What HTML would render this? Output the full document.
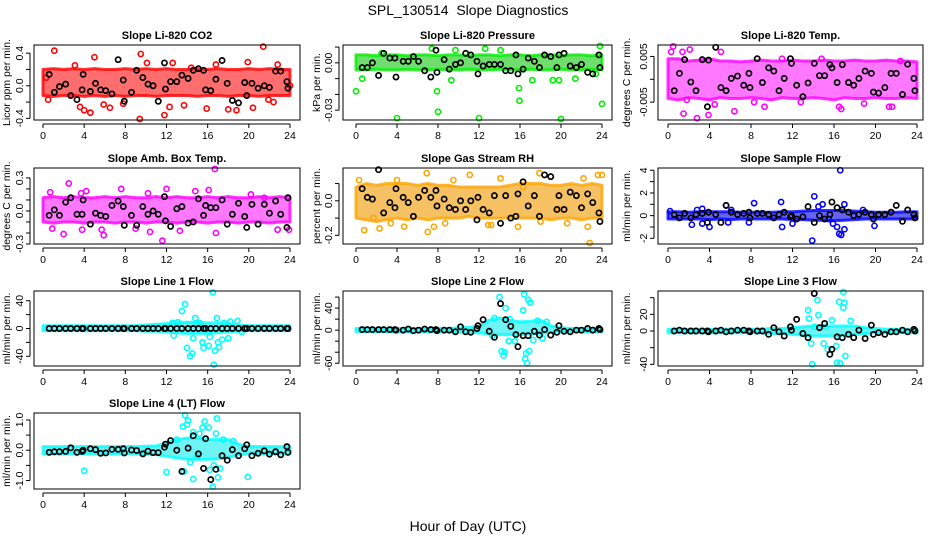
<!DOCTYPE html>
<html><head><meta charset="utf-8"><style>
html,body{margin:0;padding:0;background:#fff;}
svg{display:block;font-family:"Liberation Sans",sans-serif;}
</style></head><body>
<svg id="chart" width="936" height="540" viewBox="0 0 936 540" xmlns="http://www.w3.org/2000/svg">
<text x="468" y="15" text-anchor="middle" font-size="14">SPL_130514&#160; Slope Diagnostics</text>
<text x="468" y="531" text-anchor="middle" font-size="14">Hour of Day (UTC)</text>
</svg>
<script>
// Shared hours
const bandHours = [0,1,2,3,4,5,6,7,8,9,10,11,12,13,14,15,16,17,18,19,20,21,22,23,24];
const blackHours = [0.6,1.1,1.6,2.2,2.7,3.3,3.8,3.9,4.6,5.1,5.6,6.1,6.7,7.3,7.8,7.9,8.6,9.1,9.7,10.2,10.7,11.2,11.8,11.9,12.4,13.0,13.5,14.1,14.6,15.1,15.6,15.8,16.3,16.8,17.4,17.9,18.4,19.0,19.6,19.8,20.3,20.9,21.5,22.0,22.6,23.1,23.7,23.8];
const xTicks = [0,4,8,12,16,20,24];

// Panel 1: CO2
const co2BandLo = [-0.12,-0.13,-0.12,-0.12,-0.13,-0.12,-0.13,-0.12,-0.13,-0.12,-0.12,-0.13,-0.12,-0.12,-0.12,-0.13,-0.12,-0.12,-0.13,-0.12,-0.12,-0.13,-0.12,-0.12,-0.12];
const co2BandHi = [0.2,0.21,0.2,0.21,0.2,0.21,0.2,0.2,0.21,0.2,0.21,0.2,0.21,0.2,0.2,0.21,0.2,0.21,0.2,0.2,0.21,0.2,0.21,0.2,0.2];
const co2OutH = [1.1,0.5,3.6,4.0,4.6,5.0,5.9,6.5,9.4,9.5,10.1,11.8,12.3,12.6,13.7,15.9,16.8,18.0,18.8,19.9,20.4,21.4,21.9,22.4,22.8,3.1,7.8,14.4,0.3,24.0];
const co2OutV = [0.43,-0.17,-0.26,-0.3,-0.33,0.35,-0.23,-0.27,-0.41,0.39,0.28,-0.36,-0.26,0.28,-0.24,-0.28,0.26,-0.29,-0.3,0.29,-0.27,0.48,-0.17,-0.2,0.26,0.25,-0.22,0.22,0.1,0.0];
const co2Black = [0.14,-0.08,-0.01,0.02,-0.12,-0.17,-0.05,0.14,-0.07,0.03,-0.05,-0.06,-0.1,0.32,0.07,-0.19,-0.08,0.19,0.1,0.02,0.0,-0.19,0.28,-0.04,0.05,0.05,0.13,0.09,0.19,0.21,0.19,-0.05,-0.06,0.08,0.31,0.03,-0.18,-0.21,0.04,-0.12,0.03,-0.03,0.0,-0.02,0.18,0.18,0.05,-0.03];
const co2Ticks = [-0.4,-0.2,0,0.2,0.4];
const co2Labels = ["-0.4","","0.0","","0.4"];

// Panel 2: Pressure
const prBandLo = [-0.0045,-0.0045,-0.004,-0.0045,-0.0045,-0.004,-0.0045,-0.0045,-0.004,-0.0045,-0.0045,-0.004,-0.0045,-0.0045,-0.004,-0.0045,-0.0045,-0.004,-0.0045,-0.0045,-0.004,-0.0045,-0.0045,-0.004,-0.0045];
const prBandHi = [0.005,0.005,0.0045,0.005,0.005,0.0045,0.005,0.005,0.0045,0.005,0.005,0.0045,0.005,0.005,0.0045,0.005,0.005,0.0045,0.005,0.005,0.0045,0.005,0.005,0.0045,0.005];
const prOutH = [0,0.6,4.0,7.9,8.0,9.3,12.0,15.9,15.95,17.2,19.2,19.8,20.0,21.4,24.0,7.4,9.7,14.1,23.8,23.4,2.5,12.6];
const prOutV = [-0.018,-0.010,-0.035,-0.018,-0.031,-0.011,-0.035,-0.016,-0.024,-0.011,-0.011,-0.011,-0.036,-0.010,-0.026,0.009,0.008,0.008,0.011,-0.007,0.006,0.009];
const prBlack = [-0.003,-0.003,0.0,-0.008,0.006,0.003,0.003,-0.009,0.001,0.001,0.004,0.001,-0.005,-0.009,0.008,-0.006,0.002,-0.004,-0.001,0.0,0.006,0.005,0.001,-0.007,-0.002,-0.001,-0.001,-0.001,-0.005,-0.005,0.005,-0.007,-0.004,0.003,0.001,-0.003,0.005,0.004,-0.003,0.005,0.006,-0.002,-0.003,-0.001,-0.006,-0.007,0.005,-0.003];
const prTicks = [-0.03,-0.02,-0.01,0,0.01];
const prLabels = ["-0.03","","","0.00",""];

// Panel 3: Li-820 Temp
const ltBandLo = [-0.0042,-0.0045,-0.004,-0.0042,-0.0045,-0.004,-0.0042,-0.0042,-0.004,-0.0042,-0.0045,-0.004,-0.0042,-0.0042,-0.004,-0.0042,-0.0045,-0.004,-0.0042,-0.0042,-0.004,-0.0042,-0.0042,-0.004,-0.0042];
const ltBandHi = [0.0045,0.0045,0.004,0.0042,0.0045,0.004,0.004,0.0038,0.004,0.0042,0.004,0.004,0.0042,0.004,0.004,0.0042,0.004,0.004,0.0042,0.004,0.004,0.0042,0.004,0.004,0.0038];
const ltOutH = [0.5,0.3,1.4,2.1,2.8,1.5,3.9,5.1,6.4,9.3,16.7,16.5,21.3,21.6,4.5,12.8,14.8,11.0,8.3,22.4,18.9,1.8];
const ltOutV = [0.0072,0.006,0.006,0.0065,-0.0085,-0.0075,-0.0078,0.006,-0.007,-0.006,-0.0065,-0.006,-0.006,-0.006,-0.0055,-0.005,0.0045,0.0045,-0.005,0.004,-0.0053,-0.0045];
const ltBlack = [-0.0025,0.0013,0.0043,-0.0006,-0.0025,0.0043,-0.006,0.0042,0.007,-0.0018,-0.0025,0.0002,0.0007,-0.0013,0.0013,-0.0018,0.0045,-0.0007,0.0025,0.0018,-0.0025,0.0002,0.0045,0.0035,-0.0013,-0.0038,-0.0008,0.0035,0.0008,0.0008,0.0032,0.0025,-0.0007,0.0032,-0.0007,-0.0013,0.0002,0.0018,0.0013,-0.0028,-0.003,-0.0018,0.0013,0.0013,-0.0033,0.0033,0.0002,-0.0025];
const ltTicks = [-0.005,0,0.005];
const ltLabels = ["-0.005","","0.005"];

// Panel 4: Amb box temp
const abBandLo = [-0.1,-0.11,-0.1,-0.1,-0.11,-0.1,-0.1,-0.11,-0.1,-0.1,-0.11,-0.1,-0.1,-0.11,-0.1,-0.1,-0.11,-0.1,-0.1,-0.11,-0.1,-0.1,-0.11,-0.1,-0.1];
const abBandHi = [0.12,0.13,0.12,0.13,0.12,0.12,0.13,0.12,0.13,0.12,0.12,0.13,0.12,0.13,0.12,0.12,0.13,0.12,0.13,0.12,0.12,0.13,0.12,0.13,0.12];
const abOutH = [0.9,2.0,2.5,3.8,5.7,5.9,7.6,9.0,10.4,11.6,12.0,13.3,16.7,16.8,20.2,22.8,23.9,14.8,16.1,4.2,0.7,3.7,10.2,21.5];
const abOutV = [-0.16,-0.21,0.25,-0.17,-0.17,-0.22,0.2,-0.16,-0.19,-0.27,0.2,-0.18,0.39,-0.2,0.15,-0.17,-0.17,0.18,0.19,0.18,0.17,0.16,0.16,0.12];
const abBlack = [-0.04,0.01,-0.04,0.08,0.12,-0.03,-0.03,0.1,-0.12,-0.02,-0.04,-0.05,0.05,0.09,0.04,-0.13,-0.04,-0.13,0.04,-0.03,0.0,-0.03,0.13,-0.09,-0.14,0.02,0.04,-0.11,-0.1,0.11,-0.04,0.05,0.03,0.03,0.1,-0.12,-0.03,0.07,-0.05,-0.15,0.06,-0.12,0.06,-0.02,0.09,-0.03,-0.15,0.12];
const abTicks = [-0.3,-0.2,-0.1,0,0.1,0.2,0.3];
const abLabels = ["-0.3","","","0.0","","","0.3"];

// Panel 5: Gas stream RH
const rhBandLo = [-0.1,-0.11,-0.12,-0.11,-0.1,-0.11,-0.1,-0.11,-0.1,-0.1,-0.1,-0.09,-0.1,-0.1,-0.1,-0.1,-0.1,-0.1,-0.1,-0.11,-0.1,-0.1,-0.11,-0.1,-0.1];
const rhBandHi = [0.08,0.1,0.09,0.1,0.1,0.1,0.09,0.1,0.09,0.09,0.08,0.08,0.08,0.08,0.08,0.09,0.1,0.1,0.1,0.09,0.09,0.1,0.09,0.1,0.09];
const rhOutH = [0.3,0.8,2.3,3.4,4.7,7.0,7.6,8.7,11.1,12.9,13.2,15.8,18.0,17.9,20.6,22.2,22.6,22.8,23.6,24.0,6.9,9.5,1.7,4.0,14.1,19.8,16.3];
const rhOutV = [0.12,-0.17,-0.16,-0.13,-0.15,-0.18,-0.15,-0.13,0.15,-0.14,-0.14,-0.15,-0.12,0.16,-0.13,0.13,-0.15,-0.25,0.15,0.15,0.16,0.12,-0.1,0.12,0.13,-0.05,0.08];
const rhBlack = [0.07,0.02,0.01,0.18,-0.07,-0.01,-0.04,0.07,0.02,-0.01,-0.09,0.02,0.06,0.02,0.06,-0.03,0.01,-0.04,-0.05,0.0,-0.05,0.0,-0.11,0.02,-0.05,-0.07,0.03,-0.13,0.03,-0.1,-0.09,0.04,0.11,-0.03,0.03,-0.09,0.15,0.14,-0.05,0.03,-0.05,0.05,0.03,-0.04,0.04,-0.01,-0.07,-0.12];
const rhTicks = [-0.2,-0.1,0,0.1];
const rhLabels = ["-0.2","","0.0",""];

// Panel 6: Sample flow
const sfBandLo = [-0.3,-0.3,-0.3,-0.3,-0.35,-0.3,-0.35,-0.3,-0.3,-0.3,-0.3,-0.3,-0.35,-0.35,-0.4,-0.4,-0.45,-0.4,-0.35,-0.3,-0.3,-0.3,-0.3,-0.3,-0.3];
const sfBandHi = [0.35,0.35,0.3,0.35,0.35,0.35,0.35,0.3,0.3,0.3,0.3,0.35,0.35,0.4,0.45,0.45,0.45,0.45,0.4,0.35,0.3,0.3,0.3,0.35,0.35];
const sfOutH = [2.3,3.3,3.3,4.0,5.6,5.8,7.8,8.3,10.9,11.0,12.0,13.9,14.1,14.5,15.9,16.6,16.7,16.5,17.0,17.0,16.3,19.9,2.8,0.2,6.1,14.9,15.5,18.8];
const sfOutV = [-0.8,-0.7,0.6,-1.0,0.9,-0.6,-0.6,1.1,1.2,-1.0,-0.7,-2.2,1.7,0.8,-0.7,4.0,-1.7,-1.6,-1.2,1.0,-1.0,-0.9,0.5,0.4,0.5,1.0,-0.3,0.5];
const sfBlack = [0.1,-0.2,0.2,-0.2,0.1,0.2,-0.6,0.3,0.1,-0.6,0.9,0.3,0.1,0.2,0.3,-0.2,0.2,0.2,0.1,-0.2,0.1,0.3,-0.1,0.0,-0.3,-0.1,0.8,-0.6,0.0,-0.3,0.1,1.2,0.7,0.5,0.3,0.0,0.1,0.3,0.1,-0.3,0.1,0.1,0.3,0.9,-0.5,0.5,0.1,-0.2];
const sfTicks = [-2,-1,0,1,2,3,4];
const sfLabels = ["-2","","0","","2","","4"];

// Panel 7: Line 1 flow
const l1BandLo = [-3,-3,-3,-3,-3,-3,-3,-3,-3,-3,-4,-4,-5,-6,-7,-7,-7,-6,-5,-4,-3,-3,-3,-3,-3];
const l1BandHi = [4,4,4,4,4,4,4,4,4,4,5,6,7,9,9,9,8,8,7,5,4,4,4,4,4];
const l1OutH = [12.6,12.7,13.5,13.8,14.0,14.3,14.5,14.6,14.8,15.2,15.5,15.6,16.1,16.2,16.5,16.6,16.7,16.9,17.0,17.1,17.4,17.6,18.0,18.2,18.9,19.3,13.1,15.0];
const l1OutV = [8,-10,25,35,-28,-40,-36,-14,15,8,-20,-28,-25,-12,52,-52,-32,15,-20,-27,-16,8,-14,10,11,-5,9,6];
const l1Black = [0,0,0,0,0,0,0,0,0,0,0,0,0,0,0,0,0,0,0,0,0,0,0,0,0,0,0,0,0,0,0,0,0,0,0,0,0,0,0,0,0,0,0,0,0,0,0,0];
const l1Ticks = [-40,-20,0,20,40];
const l1Labels = ["-40","","0","","40"];

// Panel 8: Line 2 flow
const l2BandLo = [-3,-3,-3,-3,-3,-3,-3,-3,-3,-3,-4,-4,-5,-7,-8,-8,-8,-7,-6,-4,-3,-3,-3,-3,-3];
const l2BandHi = [3,3,3,3,3,3,3,3,3,3,4,5,7,18,22,18,15,16,18,8,4,3,3,3,3];
const l2OutH = [13.5,14.0,14.2,14.4,14.5,14.6,14.9,15.5,16.3,16.4,16.6,16.5,16.8,17.0,16.9,17.3,17.7,18.2,16.7,15.0,13.3,18.6];
const l2OutV = [22,60,-38,-46,-40,40,-20,-20,36,65,-42,-52,55,50,-38,-18,17,-15,-60,20,-10,15];
const l2Black = [1,1,1,1,1,1,1,0,0,2,-1,0,2,1,1,-1,0,0,-3,6,-3,-4,3,8,19,-2,-13,48,19,7,-8,-30,-10,-10,-2,-9,1,-9,-4,8,-2,-3,0,0,3,0,3,1];
const l2Ticks = [-60,-40,-20,0,20,40,60];
const l2Labels = ["-60","","","0","","40",""];

// Panel 9: Line 3 flow
const l3BandLo = [-2,-2,-2,-2,-2,-2,-2,-2,-2,-2,-3,-3,-4,-5,-6,-6,-6,-5,-4,-3,-2,-2,-2,-2,-2];
const l3BandHi = [2,2,2,2,2,2,2,2,2,2,3,3,4,5,6,6,6,6,6,4,3,2,2,2,2];
const l3OutH = [13.5,13.6,13.8,13.9,14.4,14.5,15.0,15.4,16.3,16.5,16.6,16.9,16.9,17.0,17.1,15.8,17.6,16.2,15.2,14.1];
const l3OutV = [25,15,-15,-40,37,19,-15,-22,-38,35,-39,48,28,34,-30,13,12,-18,5,5];
const l3Black = [0,1,0,0,0,0,0,-1,0,1,-1,0,1,1,0,-1,0,0,-4,4,-1,-6,5,1,14,-3,-8,45,4,9,-28,-22,-7,-8,-4,-8,1,-9,7,-4,-2,-4,-1,-1,1,-1,2,0];
const l3Ticks = [-40,-20,0,20,40];
const l3Labels = ["-40","","0","20",""];

// Panel 10: Line 4 (LT) flow
const l4BandLo = [-0.12,-0.12,-0.12,-0.12,-0.12,-0.12,-0.12,-0.12,-0.12,-0.12,-0.13,-0.14,-0.2,-0.25,-0.3,-0.3,-0.3,-0.28,-0.25,-0.15,-0.12,-0.12,-0.12,-0.12,-0.12];
const l4BandHi = [0.12,0.12,0.12,0.12,0.12,0.12,0.12,0.12,0.12,0.12,0.13,0.14,0.25,0.35,0.4,0.4,0.35,0.35,0.35,0.2,0.13,0.12,0.12,0.12,0.12];
const l4OutH = [4.0,12.0,13.7,13.8,13.6,14.1,14.0,14.3,14.6,14.6,15.2,15.5,15.7,16.1,16.2,16.5,16.6,16.8,16.9,17.0,17.2,17.5,19.9,15.0,13.0,18.5];
const l4OutV = [-0.68,-0.72,-0.7,1.15,0.78,0.98,0.85,-0.4,-0.95,0.6,0.55,0.75,0.95,0.75,-0.65,-1.2,-0.5,0.55,1.05,-0.9,-0.6,0.35,-0.88,-0.2,0.35,0.3];
const l4Black = [-0.07,-0.05,-0.05,-0.04,0.08,-0.07,-0.04,0.0,0.05,0.02,-0.1,-0.09,0.03,0.03,0.05,-0.09,0.01,-0.01,-0.12,-0.03,-0.08,-0.08,0.1,0.2,0.32,0.0,-0.7,0.07,0.48,-0.12,-0.6,0.38,-0.97,-0.63,-0.18,-0.33,0.02,-0.18,0.05,0.18,-0.18,-0.1,-0.02,-0.13,-0.05,-0.15,0.12,-0.07];
const l4Ticks = [-1,-0.5,0,0.5,1];
const l4Labels = ["-1.0","","0.0","","1.0"];

const NS = "http://www.w3.org/2000/svg";
const svg = document.getElementById("chart");
function mk(tag, attrs, parent){
  const e = document.createElementNS(NS, tag);
  for (const k in attrs) e.setAttribute(k, attrs[k]);
  (parent || svg).appendChild(e);
  return e;
}
const cols = [{l:34,r:300,x0:43,x24:290,yt:10},{l:343,r:612,x0:356,x24:602,yt:320},{l:658,r:923,x0:668,x24:917,yt:630}];
const rows = [{t:45,b:120},{t:168,b:244},{t:291,b:366},{t:413,b:489}];

const panels = [
 {key:"co2",title:"Slope Li-820 CO2",ylab:"Licor ppm per min.",c:0,r:0,ymin:-0.42,ymax:0.5,col:"#ff0000",band:"#ff2020",lo:co2BandLo,hi:co2BandHi,oh:co2OutH,ov:co2OutV,bk:co2Black,ticks:co2Ticks,labels:co2Labels},
 {key:"pressure",title:"Slope Li-820 Pressure",ylab:"kPa per min.",c:1,r:0,ymin:-0.0362,ymax:0.0113,col:"#00ee00",band:"#22cc22",lo:prBandLo,hi:prBandHi,oh:prOutH,ov:prOutV,bk:prBlack,ticks:prTicks,labels:prLabels},
 {key:"li820-temp",title:"Slope Li-820 Temp.",ylab:"degrees C per min.",c:2,r:0,ymin:-0.0089,ymax:0.0075,col:"#ff00ff",band:"#ff30ff",lo:ltBandLo,hi:ltBandHi,oh:ltOutH,ov:ltOutV,bk:ltBlack,ticks:ltTicks,labels:ltLabels},
 {key:"amb-box-temp",title:"Slope Amb. Box Temp.",ylab:"degrees C per min.",c:0,r:1,ymin:-0.3,ymax:0.39,col:"#ff00ff",band:"#ff30ff",lo:abBandLo,hi:abBandHi,oh:abOutH,ov:abOutV,bk:abBlack,ticks:abTicks,labels:abLabels},
 {key:"gas-stream-rh",title:"Slope Gas Stream RH",ylab:"percent per min.",c:1,r:1,ymin:-0.25,ymax:0.19,col:"#ffa500",band:"#f0a010",lo:rhBandLo,hi:rhBandHi,oh:rhOutH,ov:rhOutV,bk:rhBlack,ticks:rhTicks,labels:rhLabels},
 {key:"sample-flow",title:"Slope Sample Flow",ylab:"ml/min per min.",c:2,r:1,ymin:-2.5,ymax:4.2,col:"#0000ff",band:"#1010ee",lo:sfBandLo,hi:sfBandHi,oh:sfOutH,ov:sfOutV,bk:sfBlack,ticks:sfTicks,labels:sfLabels},
 {key:"line1-flow",title:"Slope Line 1 Flow",ylab:"ml/min per min.",c:0,r:2,ymin:-54,ymax:54,col:"#00ffff",band:"#20eeee",lo:l1BandLo,hi:l1BandHi,oh:l1OutH,ov:l1OutV,bk:l1Black,ticks:l1Ticks,labels:l1Labels},
 {key:"line2-flow",title:"Slope Line 2 Flow",ylab:"ml/min per min.",c:1,r:2,ymin:-65,ymax:71,col:"#00ffff",band:"#20eeee",lo:l2BandLo,hi:l2BandHi,oh:l2OutH,ov:l2OutV,bk:l2Black,ticks:l2Ticks,labels:l2Labels},
 {key:"line3-flow",title:"Slope Line 3 Flow",ylab:"ml/min per min.",c:2,r:2,ymin:-42,ymax:48,col:"#00ffff",band:"#20eeee",lo:l3BandLo,hi:l3BandHi,oh:l3OutH,ov:l3OutV,bk:l3Black,ticks:l3Ticks,labels:l3Labels},
 {key:"line4-flow",title:"Slope Line 4 (LT) Flow",ylab:"ml/min per min.",c:0,r:3,ymin:-1.28,ymax:1.23,col:"#00ffff",band:"#20eeee",lo:l4BandLo,hi:l4BandHi,oh:l4OutH,ov:l4OutV,bk:l4Black,ticks:l4Ticks,labels:l4Labels}
];

panels.forEach(p => {
  const C = cols[p.c], R = rows[p.r];
  const g = mk("g", {});
  
  
  const xs = h => C.x0 + (C.x24 - C.x0) * h / 24;
  const ys = v => R.b - (R.b - R.t) * (v - p.ymin) / (p.ymax - p.ymin);
  const clip = v => Math.max(R.t + 1, Math.min(R.b - 1, ys(v)));

  const t = mk("text", {x:(C.l + C.r) / 2, y:R.t - 6, "text-anchor":"middle", "font-size":"11", "font-weight":"bold"}, g);
  t.textContent = p.title;
  
  

  const yl = mk("text", {x:0, y:0, transform:`translate(${C.yt},${(R.t + R.b) / 2}) rotate(-90)`, "text-anchor":"middle", "font-size":"10.5"}, g);
  yl.textContent = p.ylab;
  
  

  // band
  let d = "";
  bandHours.forEach((h, i) => { d += (i ? "L" : "M") + xs(h).toFixed(1) + "," + clip(p.hi[i]).toFixed(1); });
  for (let i = bandHours.length - 1; i >= 0; i--) d += "L" + xs(bandHours[i]).toFixed(1) + "," + clip(p.lo[i]).toFixed(1);
  const band = mk("path", {d:d + "Z", fill:p.band, "fill-opacity":"0.65", stroke:p.col, "stroke-opacity":"0.8", "stroke-width":"3", "stroke-linejoin":"round"}, g);
  
  

  p.oh.forEach((h, i) => {
    const c = mk("circle", {cx:xs(h), cy:clip(p.ov[i]), r:2.6, fill:"none", stroke:p.col, "stroke-width":"1.6"}, g);
    
    
  });
  blackHours.forEach((h, i) => {
    const c = mk("circle", {cx:xs(h), cy:clip(p.bk[i]), r:2.6, fill:"none", stroke:"#000", "stroke-width":"1.7"}, g);
    
    
  });

  const box = mk("rect", {x:C.l, y:R.t, width:C.r - C.l, height:R.b - R.t, fill:"none", stroke:"#000", "stroke-width":"1"}, g);
  
  

  // x axis
  mk("line", {x1:xs(0), x2:xs(24), y1:R.b + 4, y2:R.b + 4, stroke:"#000"}, g);
  xTicks.forEach(h => {
    mk("line", {x1:xs(h), x2:xs(h), y1:R.b + 4, y2:R.b + 8, stroke:"#000"}, g);
    const tl = mk("text", {x:xs(h), y:R.b + 19, "text-anchor":"middle", "font-size":"10.5"}, g);
    tl.textContent = h;
    
    
  });
  // y axis
  const yAx = C.l - 4;
  mk("line", {x1:yAx, x2:yAx, y1:ys(p.ticks[0]), y2:ys(p.ticks[p.ticks.length - 1]), stroke:"#000"}, g);
  p.ticks.forEach((v, i) => {
    const y = ys(v);
    mk("line", {x1:yAx - 4, x2:yAx, y1:y, y2:y, stroke:"#000"}, g);
    if (p.labels[i]) {
      const tl = mk("text", {x:0, y:0, transform:`translate(${yAx - 7},${y}) rotate(-90)`, "text-anchor":"middle", "font-size":"10.5"}, g);
      tl.textContent = p.labels[i];
      
      
    }
  });
});
</script>
</body></html>
